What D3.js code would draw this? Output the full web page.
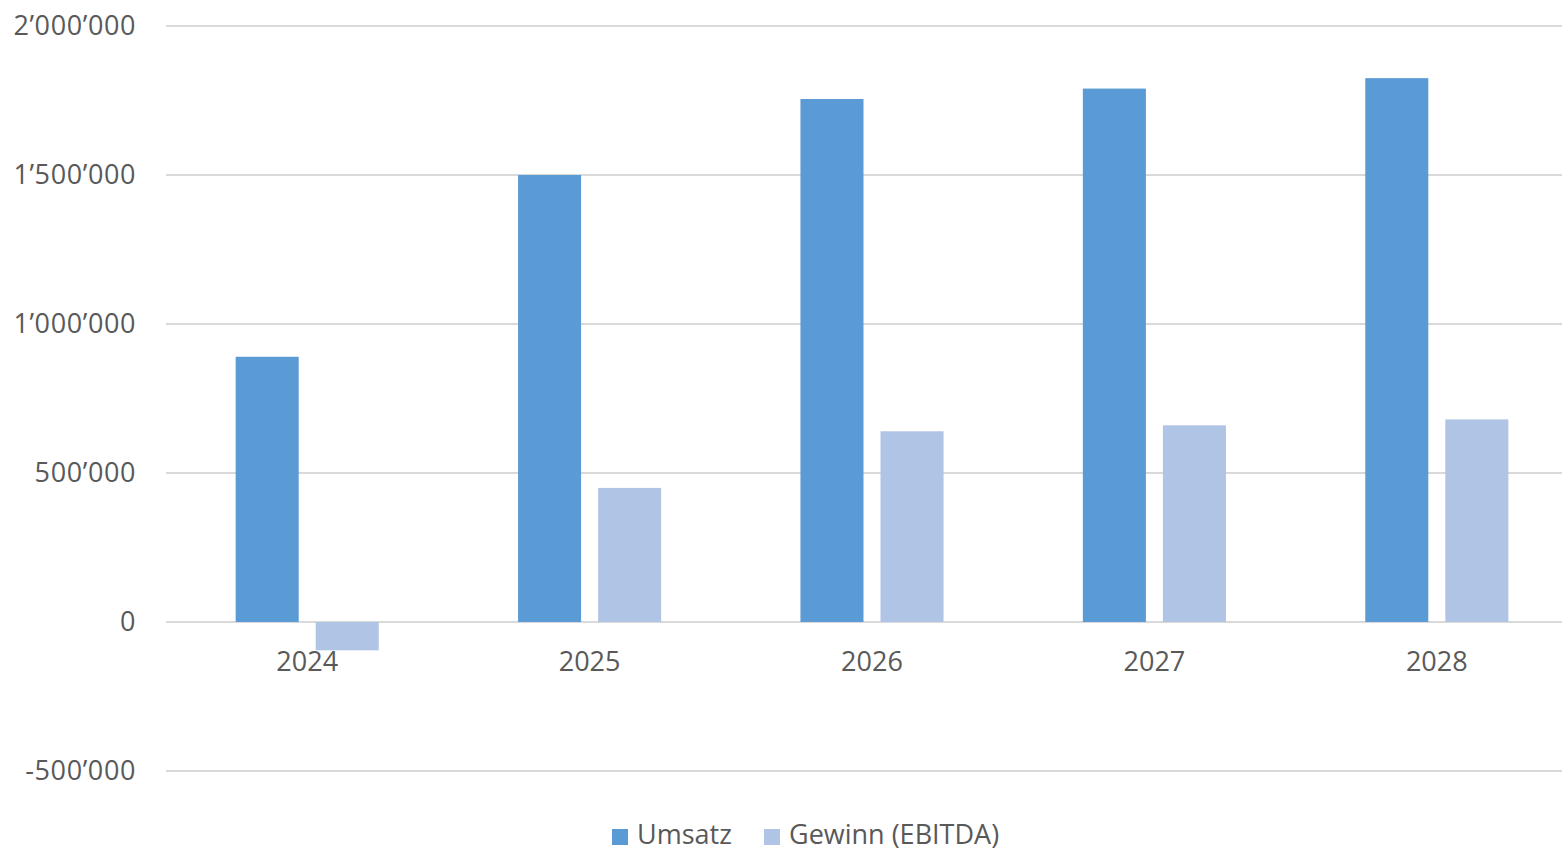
<!DOCTYPE html>
<html><head><meta charset="utf-8">
<script src="https://cdn.jsdelivr.net/npm/d3@7"></script>
<style>
html,body{margin:0;padding:0;background:#fff;}
svg{display:block;font-family:"Open Sans","Noto Sans",sans-serif;}
</style></head>
<body><svg id="chart" width="1562" height="851"></svg>
<script>
const categories = ["2024","2025","2026","2027","2028"];
const seriesNames = ["Umsatz","Gewinn (EBITDA)"];
const umsatz = [890000,1500000,1755000,1790000,1825000];
const gewinn = [-95000,450000,640000,660000,680000];
const yTicks = [-500000,0,500000,1000000,1500000,2000000];
const colors = ["#5b9bd5","#b0c4e5"];

(function(){
const svg = d3.select("#chart");
const mLeft = 166, mRight = 1578, mTop = 26, mBottom = 771;
const fs = 27;

const x = d3.scaleBand().domain(categories).range([mLeft,mRight]).paddingInner(0).paddingOuter(0);
const x1 = d3.scaleBand().domain(seriesNames).range([0,x.bandwidth()]).paddingInner(0.2125).paddingOuter(0.87);
const y = d3.scaleLinear().domain([-500000,2000000]).range([mBottom,mTop]);

const fmt = v => {
  const s = d3.format(",")(Math.abs(v)).replace(/,/g,"\u2019");
  return (v<0?"-":"") + s;
};

// gridlines
svg.append("g").selectAll("line").data(yTicks).join("line")
  .attr("x1",mLeft).attr("x2",1562)
  .attr("y1",d=>y(d)).attr("y2",d=>y(d))
  .attr("stroke","#d9d9d9").attr("stroke-width",2);

// y labels
svg.append("g").selectAll("text").data(yTicks).join("text")
  .attr("x",136).attr("y",d=>y(d)).attr("dy","0.35em")
  .attr("text-anchor","end").attr("fill","#595959").attr("font-size",fs)
  .attr("letter-spacing","0.6px")
  .text(fmt);

const data = categories.map((c,i)=>({cat:c, vals:[umsatz[i],gewinn[i]]}));

const groups = svg.append("g").selectAll("g").data(data).join("g")
  .attr("transform",d=>`translate(${x(d.cat)},0)`);
groups.selectAll("rect").data(d=>d.vals.map((v,j)=>({s:seriesNames[j],v,j}))).join("rect")
  .attr("x",d=>x1(d.s)).attr("width",x1.bandwidth())
  .attr("y",d=>y(Math.max(0,d.v))).attr("height",d=>Math.abs(y(d.v)-y(0)))
  .attr("fill",d=>colors[d.j]);

// x labels
svg.append("g").selectAll("text").data(categories).join("text")
  .attr("x",d=>x(d)+x.bandwidth()/2).attr("y",662).attr("dy","0.35em")
  .attr("text-anchor","middle").attr("fill","#595959").attr("font-size",fs)
  .text(d=>d);

// legend
const legendPos = [612,764];
const lg = svg.append("g").selectAll("g").data(seriesNames).join("g")
  .attr("transform",(d,i)=>`translate(${legendPos[i]},835)`);
lg.append("rect").attr("x",0).attr("y",-6).attr("width",16).attr("height",16)
  .attr("fill",(d,i)=>colors[i]);
lg.append("text").attr("x",25).attr("y",0).attr("dy","0.35em")
  .attr("fill","#595959").attr("font-size",fs).text(d=>d);
})();
</script></body></html>
